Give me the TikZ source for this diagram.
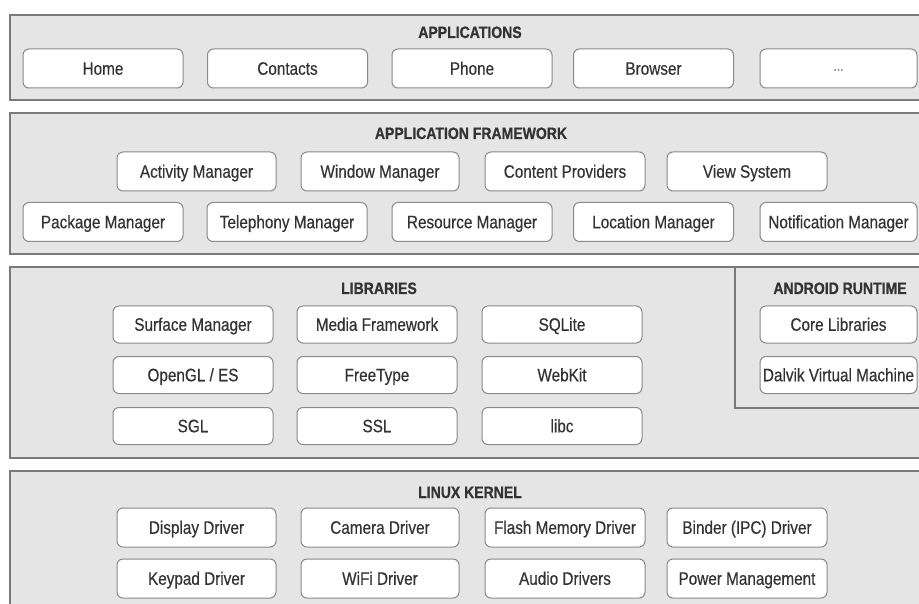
\documentclass[tikz,border=0pt]{standalone}
\usepackage{fontspec}
\setmainfont{Liberation Sans}[FakeStretch=0.85, UprightFeatures={FakeBold=0.4}]
\newfontfamily\titlefont{Liberation Sans}[FakeStretch=0.85, BoldFeatures={FakeBold=0.8}]
\definecolor{panelfill}{HTML}{E5E5E5}
\definecolor{panelline}{HTML}{7A7A7A}
\definecolor{boxline}{HTML}{8A8A8A}
\definecolor{txt}{HTML}{333333}
\tikzset{
  panel/.style={draw=panelline, line width=1.4pt, fill=panelfill},
  comp/.style={draw=boxline, line width=1pt, fill=white, rounded corners=6pt,
    minimum width=160pt, minimum height=39pt, inner sep=0pt, text=txt,
    text height=15.5pt, text depth=3pt,
    font=\fontsize{18}{20}\selectfont},
  title/.style={text=txt, inner sep=0pt, text height=14pt, text depth=2pt,
    font=\titlefont\bfseries\fontsize{16.5}{18}\selectfont}
}
\begin{document}
\begin{tikzpicture}[x=1pt,y=-1pt]
\clip (0,0) rectangle (919,604);
\fill[white] (0,0) rectangle (919,604);
% panels
\draw[panel] (10,15) rectangle (940,100);
\draw[panel] (10,113) rectangle (940,254);
\draw[panel] (10,267) rectangle (940,458);
\draw[panelline, line width=1.4pt] (735,267) -- (735,408) -- (940,408);
\draw[panel] (10,471) rectangle (940,630);
% applications
\node[title] (tapp) at (470,32) {APPLICATIONS};
\node[comp] (home) at (103,68.5) {Home};
\node[comp] (contacts) at (287.5,68.5) {Contacts};
\node[comp] (phone) at (472,68.5) {Phone};
\node[comp] (browser) at (653.5,68.5) {Browser};
\node[comp, minimum width=157pt, font=\fontsize{14}{15}\selectfont, text=gray] (more) at (838.5,68.5) {\raisebox{4pt}{...}};
% framework
\node[title] (tfw) at (471,133) {APPLICATION FRAMEWORK};
\node[comp, minimum width=159pt] (activity) at (196.5,171.5) {Activity Manager};
\node[comp, minimum width=158pt] (window) at (380,171.5) {Window Manager};
\node[comp] (content) at (565,171.5) {Content Providers};
\node[comp] (view) at (747,171.5) {View System};
\node[comp] (package) at (103,222) {Package Manager};
\node[comp] (telephony) at (287,222) {Telephony Manager};
\node[comp] (resource) at (472,222) {Resource Manager};
\node[comp] (location) at (653.5,222) {Location Manager};
\node[comp, minimum width=157pt] (notification) at (838.5,222) {Notification Manager};
% libraries
\node[title] (tlib) at (379,288) {LIBRARIES};
\node[comp, minimum height=37pt] (surface) at (193,324.5) {Surface Manager};
\node[comp, minimum height=37pt] (media) at (377,324.5) {Media Framework};
\node[comp, minimum height=37pt] (sqlite) at (562,324.5) {SQLite};
\node[comp, minimum height=37pt] (opengl) at (193,375) {OpenGL / ES};
\node[comp, minimum height=37pt] (freetype) at (377,375) {FreeType};
\node[comp, minimum height=37pt] (webkit) at (562,375) {WebKit};
\node[comp, minimum height=37pt] (sgl) at (193,426) {SGL};
\node[comp, minimum height=37pt] (ssl) at (377,426) {SSL};
\node[comp, minimum height=37pt] (libc) at (562,426) {libc};
% runtime
\node[title] (trt) at (840,288) {ANDROID RUNTIME};
\node[comp, minimum height=37pt, minimum width=157pt] (core) at (838.5,324.5) {Core Libraries};
\node[comp, minimum height=37pt, minimum width=157pt] (dalvik) at (838.5,375) {Dalvik Virtual Machine};
% kernel
\node[title] (tlk) at (470,492) {LINUX KERNEL};
\node[comp, minimum width=159pt] (display) at (196.5,527.5) {Display Driver};
\node[comp, minimum width=158pt] (camera) at (380,527.5) {Camera Driver};
\node[comp] (flash) at (565,527.5) {Flash Memory Driver};
\node[comp] (binder) at (747,527.5) {Binder (IPC) Driver};
\node[comp, minimum width=159pt] (keypad) at (196.5,578.5) {Keypad Driver};
\node[comp, minimum width=158pt] (wifi) at (380,578.5) {WiFi Driver};
\node[comp] (audio) at (565,578.5) {Audio Drivers};
\node[comp] (power) at (747,578.5) {Power Management};
\end{tikzpicture}
\end{document}
